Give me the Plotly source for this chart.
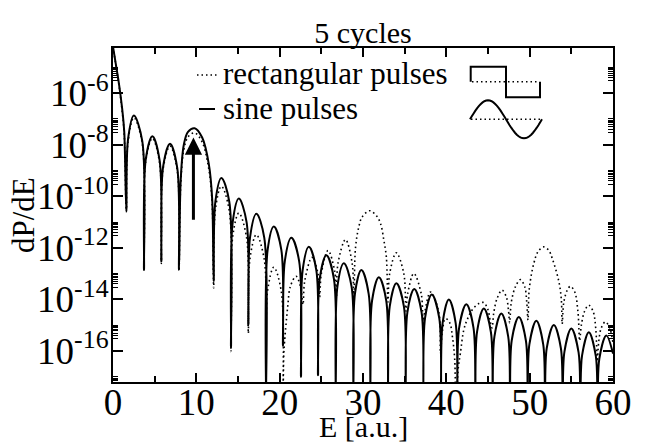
import math
import plotly.graph_objects as go

# ---------------- data (y given as log10 of dP/dE) ----------------
sine_E = [0, 0.3, 0.7, 1.1, 1.35, 1.6,
          1.8, 2.5, 3.51, 3.72,
          3.93, 4.72, 5.59, 5.8,
          6.01, 6.84, 7.71, 7.92,
          8.12, 8.5, 9.0, 9.8, 10.7, 11.5, 11.9, 12.08,
          12.29, 13.0, 13.95, 14.16,
          14.37, 15.1, 16.03, 16.24,
          16.45, 17.2, 18.15, 18.36,
          18.56, 19.3, 20.2, 20.4,
          20.62, 21.4, 22.34, 22.56,
          22.76, 23.5, 24.4, 24.6,
          24.81, 25.6, 26.51, 26.72,
          26.93, 27.7, 28.63, 28.84,
          29.04, 29.8, 30.68, 30.88,
          31.09, 31.9, 32.79, 33.0,
          33.21, 34.0, 34.91, 35.12,
          35.33, 36.15, 37.03, 37.24,
          37.45, 38.25, 39.15, 39.36,
          39.56, 40.3, 41.12, 41.32,
          41.54, 42.4, 43.26, 43.48,
          43.69, 44.5, 45.35, 45.56,
          45.77, 46.6, 47.43, 47.64,
          47.85, 48.7, 49.55, 49.76,
          49.97, 50.8, 51.63, 51.84,
          52.05, 52.9, 53.75, 53.96,
          54.17, 55.0, 55.87, 56.08,
          56.29, 57.1, 57.94, 58.15,
          58.36, 59.2, 60.0]
sine_logP = [-4.2, -4.8, -5.6, -6.6, -7.5, -10.58,
             -7.8, -6.87, -7.85, -12.85,
             -8.57, -7.67, -8.6, -12.53,
             -8.86, -7.96, -8.9, -12.85,
             -9.4, -8.0, -7.5, -7.36, -7.72, -8.75, -10.1, -13.3,
             -10.19, -9.29, -10.2, -15.85,
             -10.99, -10.09, -11.0, -15.0,
             -11.58, -10.68, -11.6, -18,
             -12.07, -11.17, -12.08, -15.8,
             -12.51, -11.61, -12.52, -17.0,
             -12.86, -11.96, -12.87, -16.94,
             -13.19, -12.29, -13.2, -18,
             -13.5, -12.6, -13.5, -18,
             -13.76, -12.86, -13.78, -18,
             -14.04, -13.14, -14.05, -18,
             -14.27, -13.37, -14.28, -18,
             -14.49, -13.59, -14.5, -18,
             -14.71, -13.81, -14.72, -18,
             -14.9, -14.0, -14.92, -18,
             -15.09, -14.19, -15.1, -18,
             -15.25, -14.35, -15.27, -18,
             -15.44, -14.54, -15.45, -18,
             -15.58, -14.68, -15.6, -18,
             -15.73, -14.83, -15.75, -18,
             -15.89, -14.99, -15.9, -18,
             -16.03, -15.13, -16.05, -18,
             -16.17, -15.27, -16.2, -18,
             -16.3, -15.4, -16.1]

rect_E = [0, 0.3, 0.7, 1.1, 1.35, 1.6,
          1.8, 2.5, 3.51, 3.72,
          3.93, 4.72, 5.59, 5.8,
          6.01, 6.84, 7.71, 7.92,
          8.12, 8.5, 9.0, 9.8, 10.7, 11.5, 11.9, 12.08,
          12.29, 13.0, 13.95, 14.16,
          14.37, 15.1, 16.03, 16.24,
          16.45, 17.2, 18.15, 18.36,
          18.56, 19.3, 20.2, 20.4,
          20.5, 20.7, 20.96, 21.28, 21.96, 22.5, 22.8,
          23.0, 23.88, 24.6, 24.8,
          25.0, 25.8, 26.6, 26.8,
          27.0, 27.9, 28.7, 28.9,
          29.1, 29.5, 29.9, 30.8, 31.6, 32.1, 32.5, 32.8, 33.0,
          33.2, 34.0, 34.9, 35.15,
          35.35, 36.1, 37.0, 37.2,
          37.4, 38.1, 39.1, 39.3,
          39.5, 39.9, 40.4, 40.75, 41.0, 41.16,
          41.45, 41.68, 42.08, 42.48, 43.08, 43.88, 44.48, 45.0, 45.3, 45.48,
          45.7, 46.1, 46.68, 47.2, 47.45, 47.6,
          47.8, 48.3, 48.88, 49.4, 49.65, 49.8,
          49.95, 50.5, 51.0, 51.68, 52.3, 52.7, 53.5, 53.8, 53.9,
          54.1, 54.5, 54.88, 55.4, 55.8, 56.0,
          56.2, 56.6, 57.08, 57.6, 57.95, 58.1,
          58.3, 58.6, 59.08, 59.6, 60.0]
rect_logP = [-4.2, -4.82, -5.65, -6.7, -7.6, -10.6,
             -7.9, -6.95, -7.95, -12.9,
             -8.65, -7.75, -8.7, -12.6,
             -8.95, -8.05, -9.0, -12.9,
             -9.6, -8.2, -7.7, -7.54, -7.9, -8.95, -10.3, -13.56,
             -10.51, -9.61, -10.55, -16.02,
             -11.55, -10.65, -11.6, -15.31,
             -12.39, -11.49, -12.45, -16.5,
             -13.65, -12.75, -13.7, -18,
             -16.1, -15.2, -14.3, -13.5, -13.1, -13.5, -14.2,
             -13.3, -12.37, -13.0, -13.9,
             -13.0, -12.1, -12.9, -13.9,
             -12.6, -11.68, -12.6, -14.0,
             -12.0, -11.18, -10.8, -10.56, -10.75, -11.05, -11.7, -12.35, -14.1,
             -13.0, -12.19, -13.0, -14.45,
             -13.8, -12.99, -13.8, -14.85,
             -14.5, -13.71, -14.5, -16.1,
             -15.3, -14.74, -14.9, -15.5, -16.3, -18,
             -16.6, -16.1, -15.2, -14.8, -14.42, -14.16, -14.12, -14.4, -14.9, -15.1,
             -14.5, -13.95, -13.64, -13.9, -14.4, -14.9,
             -14.1, -13.5, -13.23, -13.5, -14.1, -14.8,
             -13.6, -12.6, -12.15, -11.96, -12.1, -12.4, -13.3, -14.0, -14.95,
             -14.1, -13.65, -13.49, -13.7, -14.5, -15.6,
             -15.0, -14.45, -14.22, -14.45, -15.2, -16.4,
             -15.6, -15.1, -14.87, -15.1, -15.7]

x_ticks = [0, 10, 20, 30, 40, 50, 60]
x_minor = [5, 15, 25, 35, 45, 55]
y_tick_exp = [-16, -14, -12, -10, -8, -6]
y_ticktext = ["10<sup>-16</sup>", "10<sup>-14</sup>", "10<sup>-12</sup>",
              "10<sup>-10</sup>", "10<sup>-8</sup>", "10<sup>-6</sup>"]
legend_labels = ["rectangular pulses", "sine pulses"]
arrow_E = 9.65
arrow_from_log, arrow_to_log = -10.97, -7.72

assert len(sine_E) == len(sine_logP)
assert len(rect_E) == len(rect_logP)

FONT = "Liberation Serif"

fig = go.Figure()
fig.add_trace(go.Scatter(x=rect_E, y=[10 ** v for v in rect_logP], mode="lines",
                         line=dict(color="black", width=1.6, dash="1.6px,3px",
                                   shape="spline", smoothing=1.0),
                         name=legend_labels[0], hoverinfo="skip"))
fig.add_trace(go.Scatter(x=sine_E, y=[10 ** v for v in sine_logP], mode="lines",
                         line=dict(color="black", width=2, shape="spline", smoothing=1.0),
                         name=legend_labels[1], hoverinfo="skip"))

# target plot area in page pixels; the page body adds an 8 px offset
OFF = 8
PW, PH = 645, 443
L, R, T, B = 113, 613, 48, 382
W, H = PW - OFF, PH - OFF


def px(xp, yp):
    return (xp - L) / (R - L), (B - yp) / (B - T)


shapes = []
# legend samples
x0, y0 = px(197, 75); x1, _ = px(217, 75)
shapes.append(dict(type="line", xref="paper", yref="paper", x0=x0, y0=y0, x1=x1, y1=y0,
                   line=dict(color="black", width=1.5, dash="1.5px,3px")))
x0, y0 = px(199, 109); x1, _ = px(215, 109)
shapes.append(dict(type="line", xref="paper", yref="paper", x0=x0, y0=y0, x1=x1, y1=y0,
                   line=dict(color="black", width=2)))


def path_of(points):
    s = ""
    for i, (a, b) in enumerate(points):
        xa, yb = px(a, b)
        s += ("M" if i == 0 else "L") + f"{xa:.4f},{yb:.4f} "
    return s


# rectangular pulse icon
rect_pts = [(470.7, 81.7), (470.7, 66.7), (506, 66.7), (506, 97.3), (540, 97.3), (540, 81.7)]
shapes.append(dict(type="path", xref="paper", yref="paper", path=path_of(rect_pts),
                   line=dict(color="black", width=2)))
a, b = px(472, 81.7); c, _ = px(539, 81.7)
shapes.append(dict(type="line", xref="paper", yref="paper", x0=a, y0=b, x1=c, y1=b,
                   line=dict(color="black", width=1.5, dash="1.5px,3px")))
# sine pulse icon (decorative)
sine_pts = [(470 + 72 * k / 40, 119.3 - 19 * math.sin(2 * math.pi * k / 40)) for k in range(41)]
shapes.append(dict(type="path", xref="paper", yref="paper", path=path_of(sine_pts),
                   line=dict(color="black", width=2)))
a, b = px(471, 119.3); c, _ = px(541, 119.3)
shapes.append(dict(type="line", xref="paper", yref="paper", x0=a, y0=b, x1=c, y1=b,
                   line=dict(color="black", width=1.5, dash="1.5px,3px")))

annotations = []
for lab, yp in zip(legend_labels, [74, 108]):
    xa, ya = px(221, yp)
    annotations.append(dict(text=lab, xref="paper", yref="paper", x=xa, y=ya,
                            xanchor="left", yanchor="middle", showarrow=False,
                            font=dict(family=FONT, size=31, color="black")))
# axis titles
xa, ya = px(363, 427)
annotations.append(dict(text="E [a.u.]", xref="paper", yref="paper", x=xa, y=ya,
                        xanchor="center", yanchor="middle", showarrow=False,
                        font=dict(family=FONT, size=30, color="black")))
xa, ya = px(23, 215)
annotations.append(dict(text="dP/dE", xref="paper", yref="paper", x=xa, y=ya,
                        xanchor="center", yanchor="middle", showarrow=False, textangle=-90,
                        font=dict(family=FONT, size=31, color="black")))
annotations.append(dict(x=arrow_E, y=arrow_to_log, ax=arrow_E, ay=arrow_from_log,
                        xref="x", yref="y", axref="x", ayref="y", text="",
                        showarrow=True, arrowhead=2, arrowsize=1.15, arrowwidth=3,
                        arrowcolor="black"))

y_minor = [m * 10 ** e for e in range(-18, -4, 2) for m in range(3, 11)]

fig.update_layout(
    width=W, height=H,
    margin=dict(l=L - OFF, r=W - (R - OFF), t=T - OFF, b=H - (B - OFF), autoexpand=False),
    paper_bgcolor="white", plot_bgcolor="white",
    showlegend=False,
    title=dict(text="5 cycles", x=0.5, xref="paper", xanchor="center",
               y=1 - (32 - OFF) / H, yref="container", yanchor="middle",
               font=dict(family=FONT, size=30, color="black")),
    shapes=shapes, annotations=annotations,
    xaxis=dict(range=[0, 60], tickmode="array", tickvals=x_ticks, automargin=False,
               ticks="inside", ticklen=9, tickwidth=1.5, tickcolor="black",
               ticklabelstandoff=-13,
               showline=True, linewidth=2, linecolor="black", mirror="allticks",
               showgrid=False, zeroline=False,
               tickfont=dict(family=FONT, size=37, color="black"),
               minor=dict(tickmode="array", tickvals=x_minor, ticks="inside", ticklen=6,
                          tickwidth=1.5, tickcolor="black", showgrid=False)),
    yaxis=dict(type="log", range=[-17.2, -4.25], tickmode="array", automargin=False,
               tickvals=[10 ** e for e in y_tick_exp], ticktext=y_ticktext,
               ticks="inside", ticklen=10, tickwidth=1.5, tickcolor="black",
               ticklabelstandoff=-5,
               showline=True, linewidth=2, linecolor="black", mirror="allticks",
               showgrid=False, zeroline=False,
               tickfont=dict(family=FONT, size=37, color="black"),
               minor=dict(tickmode="array", tickvals=y_minor, ticks="inside", ticklen=5,
                          tickwidth=1, tickcolor="black", showgrid=False)),
)

fig.write_html("out.html")
